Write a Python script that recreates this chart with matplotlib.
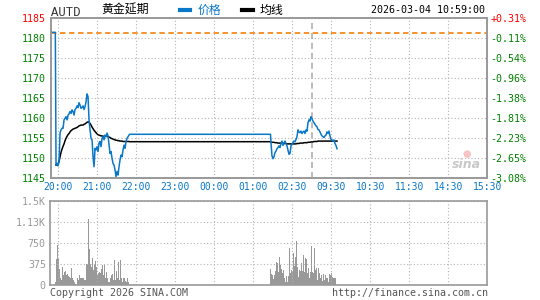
import matplotlib
matplotlib.use('Agg')
import matplotlib.pyplot as plt
from matplotlib.lines import Line2D
import numpy as np

# x axis = trading minutes after 20:00, a label every 60 trading minutes
time_labels = ['20:00', '21:00', '22:00', '23:00', '00:00', '01:00',
               '02:30', '09:30', '10:30', '11:30', '14:30', '15:30']
price_ticks = [1145, 1150, 1155, 1160, 1165, 1170, 1175, 1180, 1185]
pct_labels = ['-3.08%', '-2.65%', '-2.23%', '-1.81%', '-1.38%',
              '-0.96%', '-0.54%', '-0.11%', '+0.31%']
vol_ticks = [0, 375, 750, 1125, 1500]
vol_labels = ['0', '375', '750', '1.13K', '1.5K']

prev_close = 1181.35
pre_open = 1181.5       # auction price before 20:00
idle_price = 1156.0     # no trades between the two active stretches
idle_avg = 1154.15
night_end = 390         # 02:30, start of day session

# night session, first active stretch (one sample per pixel of the original)
price1 = [1148.3, 1148.7, 1148.1, 1149.2, 1156.3, 1157.1, 1157.5, 1157.5, 1159.6, 1160.0,
          1160.4, 1159.6, 1160.8, 1161.1, 1161.7, 1161.2, 1162.1, 1161.7, 1160.8, 1162.2,
          1162.5, 1163.1, 1162.7, 1163.9, 1163.3, 1162.5, 1162.7, 1163.1, 1162.2, 1162.9,
          1164.1, 1166.1, 1165.4, 1159.6, 1157.1, 1155.0, 1154.6, 1150.4, 1147.9, 1152.5,
          1152.1, 1152.9, 1151.7, 1153.8, 1154.2, 1152.9, 1155.0, 1155.4, 1154.6, 1155.8,
          1155.4, 1156.3, 1155.6, 1153.3, 1151.2, 1151.7, 1150.0, 1148.7, 1148.3, 1147.1,
          1145.4, 1146.7, 1145.8, 1147.9, 1149.6, 1150.8, 1150.4, 1152.1, 1153.3, 1152.5,
          1154.2, 1155.0, 1155.4, 1155.8]
avg1 = [1148.3, 1148.3, 1148.6, 1149.2, 1150.3, 1151.5, 1152.3, 1153.0, 1153.6, 1154.4,
        1155.0, 1155.5, 1155.9, 1156.2, 1156.6, 1156.9, 1157.1, 1157.3, 1157.4, 1157.5,
        1157.6, 1157.7, 1157.9, 1158.1, 1158.2, 1158.3, 1158.3, 1158.3, 1158.5, 1158.6,
        1158.8, 1159.0, 1159.1, 1159.0, 1158.7, 1158.3, 1157.8, 1157.4, 1157.0, 1156.7,
        1156.4, 1156.1, 1155.9, 1155.8, 1155.7, 1155.6, 1155.6, 1155.5, 1155.5, 1155.5,
        1155.5, 1155.5, 1155.4, 1155.3, 1155.2, 1155.0, 1154.9, 1154.8, 1154.7, 1154.6,
        1154.5, 1154.5, 1154.4, 1154.4, 1154.3, 1154.3, 1154.3, 1154.2, 1154.2, 1154.2,
        1154.2, 1154.2, 1154.2, 1154.2]
vol1 = [50, 464, 714, 464, 285, 119, 89, 327, 179, 226,
        250, 179, 190, 167, 149, 119, 298, 131, 89, 60,
        12, 0, 131, 89, 179, 131, 131, 119, 119, 89,
        89, 369, 369, 1178, 643, 369, 327, 476, 268, 357,
        428, 327, 179, 208, 226, 208, 286, 357, 179, 357,
        131, 226, 119, 48, 48, 119, 179, 190, 89, 446,
        89, 250, 131, 416, 89, 446, 119, 48, 119, 131,
        71, 48, 119, 48]

# second active stretch, around 02:00 - 09:40
price2 = [1153.9, 1150.6, 1149.9, 1150.4, 1151.4, 1151.8, 1152.4, 1152.7, 1153.1, 1152.7,
          1153.7, 1154.3, 1153.2, 1153.9, 1154.3, 1153.7, 1153.1, 1152.1, 1151.0, 1151.2,
          1153.1, 1153.5, 1153.9, 1154.3, 1154.1, 1154.7, 1155.4, 1157.1, 1156.6, 1156.4,
          1156.8, 1156.2, 1156.6, 1156.8, 1156.2, 1157.1, 1156.8, 1158.9, 1159.6, 1159.3,
          1160.4, 1159.9, 1159.3, 1158.9, 1158.5, 1158.1, 1157.9, 1157.2, 1157.1, 1156.6,
          1156.0, 1155.6, 1155.4, 1155.2, 1155.6, 1155.8, 1156.6, 1156.2, 1156.8, 1155.6,
          1154.7, 1154.6, 1154.3, 1154.6, 1153.7, 1153.2, 1152.4]
avg2 = [1154.1, 1154.0, 1154.0, 1154.0, 1153.9, 1153.9, 1153.9, 1153.8, 1153.8, 1153.8,
        1153.8, 1153.8, 1153.7, 1153.7, 1153.7, 1153.7, 1153.6, 1153.6, 1153.6, 1153.6,
        1153.6, 1153.6, 1153.6, 1153.6, 1153.6, 1153.6, 1153.7, 1153.7, 1153.7, 1153.8,
        1153.8, 1153.8, 1153.8, 1153.9, 1153.9, 1153.9, 1153.9, 1154.0, 1154.0, 1154.0,
        1154.1, 1154.1, 1154.1, 1154.2, 1154.2, 1154.2, 1154.2, 1154.3, 1154.3, 1154.3,
        1154.3, 1154.3, 1154.3, 1154.3, 1154.3, 1154.3, 1154.3, 1154.3, 1154.3, 1154.3,
        1154.3, 1154.3, 1154.3, 1154.3, 1154.3, 1154.3, 1154.3]
vol2 = [286, 190, 179, 107, 179, 250, 405, 387, 238, 506,
        357, 286, 208, 268, 131, 48, 167, 48, 167, 666,
        208, 268, 238, 565, 345, 506, 785, 327, 149, 268,
        250, 387, 250, 535, 238, 488, 464, 208, 298, 119,
        238, 702, 238, 208, 655, 268, 310, 89, 310, 208,
        131, 179, 71, 190, 89, 179, 131, 119, 48, 190,
        179, 208, 149, 131, 131, 131]

BLUE = '#0a78c8'
GREEN = '#008000'
GRID = '#b4b4b4'
FRAME = '#999999'
MONO = 'DejaVu Sans Mono'
CJK = ['Noto Sans CJK SC', 'DejaVu Sans']

step = 60 / 39                      # minutes per sample
t1 = -3.5 + step * np.arange(len(price1))
t2 = 327.2 + step * np.arange(len(price2))
tv1 = -3.5 + step * np.arange(len(vol1))
tv2 = 327.2 + step * np.arange(len(vol2))
xticks = np.arange(len(time_labels)) * 60
xlim = (-11.7, xticks[-1])

line_x = np.concatenate([[xlim[0], -4.6], t1, [t1[-1] + step / 2, t2[0] - step / 2], t2])
line_y = np.concatenate([[pre_open, pre_open], price1, [idle_price, idle_price], price2])
avg_x = np.concatenate([t1, [t1[-1] + step / 2, t2[0] - step / 2], t2])
avg_y = np.concatenate([avg1, [idle_avg, idle_avg], avg2])

fig = plt.figure(figsize=(5.4, 3.0), dpi=100)
ax = fig.add_axes([0.0939, 0.4057, 0.8085, 0.5333])
axv = fig.add_axes([0.0926, 0.05, 0.8098, 0.28])

# price panel
ax.plot(line_x, line_y, color=BLUE, lw=1.1, zorder=4)
ax.plot(avg_x, avg_y, color='black', lw=1.1, zorder=3)
ax.axhline(prev_close, color='#f5891a', ls=(0, (3, 2)), lw=1.3, zorder=2)
ax.axvline(night_end, color='#aaaaaa', ls=(0, (4, 2.5)), lw=1.1, zorder=2)

ax.set_xlim(*xlim)
ax.set_ylim(price_ticks[0], price_ticks[-1])
ax.set_xticks(xticks)
ax.set_xticklabels(time_labels, fontfamily=MONO, fontsize=7, color=BLUE)
ax.set_yticks(price_ticks)
ax.set_yticklabels([str(p) for p in price_ticks], fontfamily=MONO, fontsize=7.2)
ax.tick_params(length=0, pad=3.5)
ax.tick_params(axis='x', pad=3)
ax.grid(True, color=GRID, ls=(0, (1, 2)), lw=0.8)

axr = ax.twinx()
axr.set_ylim(ax.get_ylim())
axr.set_yticks(price_ticks)
axr.set_yticklabels(pct_labels, fontfamily=MONO, fontsize=7.2)
axr.tick_params(length=0, pad=2)

for a in (ax, axr):
    for lbl, p in zip(a.get_yticklabels(), price_ticks):
        lbl.set_color('red' if p > prev_close else GREEN)
for a in (ax, axr, axv):
    for s in a.spines.values():
        s.set_color(FRAME)
        s.set_linewidth(1.2)

ax.text(0.953, 0.15, '\u25cf', transform=ax.transAxes, color='#f6c4c4',
        fontsize=7, ha='center', va='center')
ax.text(0.953, 0.085, 'sina', transform=ax.transAxes, color='#c8c8c8',
        fontsize=9, style='italic', weight='bold', ha='center', va='center')

# volume panel
axv.bar(tv1, vol1, width=step * 1.1, color='#999999', lw=0, antialiased=False)
axv.bar(tv2, vol2, width=step * 1.1, color='#999999', lw=0, antialiased=False)
axv.set_xlim(*xlim)
axv.set_ylim(vol_ticks[0], vol_ticks[-1])
axv.set_xticks(xticks)
axv.set_xticklabels([])
axv.set_yticks(vol_ticks)
axv.set_yticklabels(vol_labels, fontfamily=MONO, fontsize=7.2, color='#999999')
axv.tick_params(length=0, pad=3)
axv.grid(True, color=GRID, ls=(0, (1, 2)), lw=0.8)

# header
fig.text(0.094, 0.958, 'AUTD', fontfamily='Liberation Mono', fontsize=8.8,
         color='#333333', va='center')
fig.text(0.187, 0.966, '黄金延期', family=CJK, fontsize=8.6, color='black', va='center')
handles = [Line2D([], [], color=BLUE, lw=3), Line2D([], [], color='black', lw=3)]
leg = fig.legend(handles, ['价格', '均线'], loc='center left',
                 bbox_to_anchor=(0.333, 0.966), ncol=2, frameon=False,
                 handlelength=0.85, handletextpad=0.6, columnspacing=1.8,
                 borderpad=0, borderaxespad=0, prop={'family': CJK, 'size': 8.6})
leg.get_texts()[0].set_color(BLUE)
fig.text(0.898, 0.966, '2026-03-04 10:59:00', fontfamily=MONO, fontsize=7.2,
         color='black', ha='right', va='center')

# footer
fig.text(0.0926, 0.022, 'Copyright 2026 SINA.COM', fontfamily=MONO, fontsize=7.2,
         color='#555555', va='center')
fig.text(0.904, 0.022, 'http://finance.sina.com.cn', fontfamily=MONO, fontsize=7.2,
         color='#555555', ha='right', va='center')

fig.savefig('out.png', dpi=100)
